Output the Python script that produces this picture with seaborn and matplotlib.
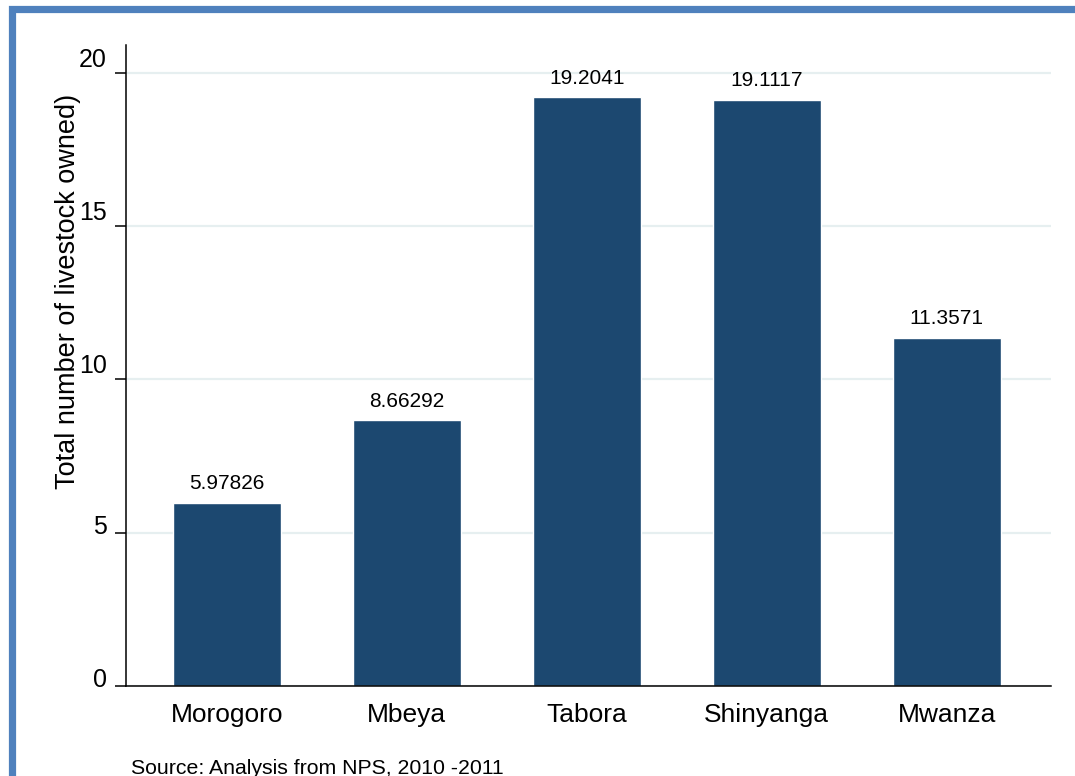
import matplotlib
matplotlib.use("Agg")
import matplotlib.pyplot as plt
import matplotlib.transforms as mtransforms
from matplotlib.patches import Rectangle
import seaborn as sns

# === data ===
regions = ["Morogoro", "Mbeya", "Tabora", "Shinyanga", "Mwanza"]
livestock = [5.97826, 8.66292, 19.2041, 19.1117, 11.3571]
y_ticks = [0, 5, 10, 15, 20]

bar_color = "#1c4870"
grid_color = "#e6eff0"
frame_color = "#4f81bd"

sns.set_style("white")
plt.rcParams["font.family"] = ["Liberation Sans", "DejaVu Sans"]
plt.rcParams["text.color"] = "black"
plt.rcParams["axes.labelcolor"] = "black"
plt.rcParams["xtick.color"] = "black"
plt.rcParams["ytick.color"] = "black"

fig = plt.figure(figsize=(10.75, 7.76), dpi=100)
ax = fig.add_axes([126 / 1075, 1 - 686 / 776, 925 / 1075, 641 / 776])

sns.barplot(x=regions, y=livestock, color=bar_color, saturation=1,
            width=0.6, ax=ax, zorder=2)

ax.bar_label(ax.containers[0], fmt="%g", padding=7, fontsize=15, color="black")

# axes styling
ax.set_xlim(-0.56, 4.58)
ax.set_ylim(0, 20.91)
ax.set_yticks(y_ticks)
ax.set_axisbelow(True)
ax.yaxis.grid(True, color=grid_color, lw=1.6)
ax.xaxis.grid(False)
for side in ["top", "right"]:
    ax.spines[side].set_visible(False)
for side in ["left", "bottom"]:
    ax.spines[side].set_color("black")
    ax.spines[side].set_linewidth(1.1)

ax.tick_params(axis="y", left=True, length=8, width=1.1, color="black",
               pad=6, labelsize=18, labelcolor="black")
ax.tick_params(axis="x", bottom=False, length=0, pad=12, labelsize=19,
               labelcolor="black")

# stata-like label placement: two-digit labels sit a bit above their tick
for lab, t in zip(ax.get_yticklabels(), y_ticks):
    shift = 6 if t >= 10 else -1
    lab.set_va("baseline")
    lab.set_transform(lab.get_transform() +
                      mtransforms.ScaledTranslation(0, shift / 100, fig.dpi_scale_trans))

ax.set_xlabel("")
ax.set_ylabel("Total number of livestock owned)", fontsize=19.5, color="black")
ax.yaxis.set_label_coords(-0.049, 0.615)

fig.text(131 / 1075, 1 - 759 / 776, "Source: Analysis from NPS, 2010 -2011",
         fontsize=15.3, va="top", ha="left", color="black")

# blue frame (only left and top edges visible in the crop)
fig.patches.append(Rectangle((11.5 / 1075, -0.2), 1.2, 1.2 - 9 / 776,
                             transform=fig.transFigure, fill=False,
                             edgecolor=frame_color, lw=5.2, clip_on=False))

fig.savefig("out.png", dpi=100)
